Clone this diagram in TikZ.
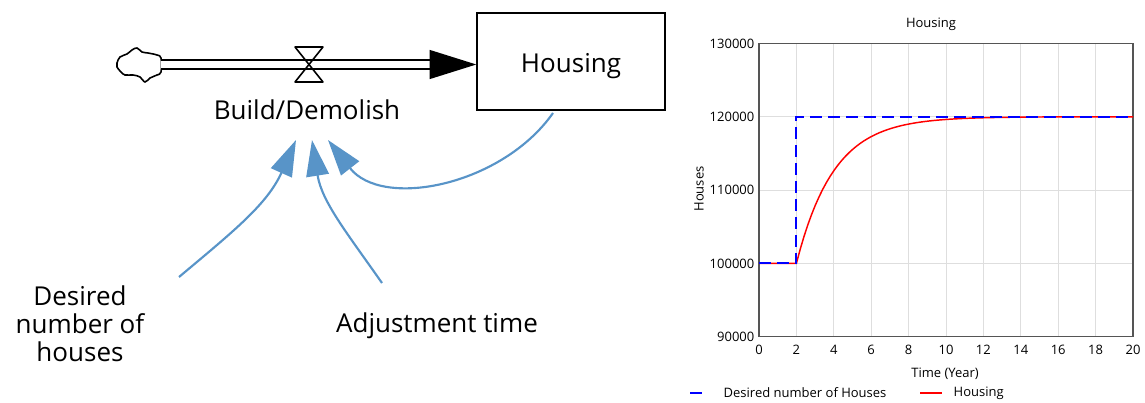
\documentclass[tikz,border=0pt]{standalone}
\usepackage{fontspec}
\setmainfont{Open Sans}
\usepackage{tikz}
\usetikzlibrary{arrows.meta}
\usepackage{xcolor}
\definecolor{linkblue}{RGB}{88,148,200}
\definecolor{gridgray}{RGB}{222,222,222}
\definecolor{framegray}{RGB}{85,85,85}

\tikzset{
  varlabel/.style={font=\fontsize{19.5}{21}\selectfont, align=center},
  link/.style={draw=linkblue, line width=1.6pt, -{Triangle[length=27pt,width=17pt]}},
  plotlabel/.style={font=\fontsize{9.75}{11}\selectfont},
}

\begin{document}
\begin{tikzpicture}[x=0.75pt,y=0.75pt]
\useasboundingbox (0,0) rectangle (1145,-403);

% stock, flow and valve
\node[draw, line width=1.1pt, minimum width=141pt, minimum height=72.75pt, text height=21pt, varlabel] (housing) at (571,-61.5) {Housing};
\draw[line width=1.2pt] plot[smooth cycle, tension=0.6] coordinates {(117,-63) (120,-57) (127,-54) (132,-50) (137,-48) (142,-52) (148,-53) (157,-55) (161,-58) (161,-72) (157,-75) (150,-78) (145,-82) (140,-77) (133,-75) (125,-75) (121,-72) (117,-67)};
\coordinate (src) at (161,-64.5);
\coordinate (inlet) at ([yshift=-2.25pt]housing.west);
\coordinate (pipeend) at ([xshift=-35pt]inlet);
\draw[double, double distance=5pt, line width=1.5pt] (src) -- (pipeend);
\fill (inlet) -- ([yshift=11pt]pipeend) -- ([yshift=-11pt]pipeend) -- cycle;
\coordinate (valve) at (309,-64.5);
\draw[line width=1.2pt, line join=round] (valve) ++(-14,17.5) -- ++(28,0) -- ++(-28,-35) -- ++(28,0) -- cycle;

\node[varlabel] (rate) at (307,-110) {Build/Demolish};
\node[varlabel] (desired) at (80,-324) {Desired\\number of\\houses};
\node[varlabel] (adjtime) at (437,-326) {Adjustment time};

% causal links
\draw[link] ([shift={(99,47)}]desired.center) to[out=40,in=246] ([shift={(-11,-30)}]rate.center);
\draw[link] ([shift={(-55,43)}]adjtime.center) to[out=125,in=279] ([shift={(5,-30)}]rate.center);
\draw[link] ([shift={(-18,-51.5)}]housing.center) to[out=235,in=308] ([shift={(21,-30)}]rate.center);

% simulation graph
\node[plotlabel] (title) at (931,-24) {Housing};
\node[plotlabel, rotate=90] (ylab) at (699,-189) {Houses};
\node[plotlabel] (xlab) at (945,-374) {Time (Year)};
\begin{scope}[shift={(759,-336.7)}, x=14.025pt, y=54.98pt]
  \foreach \t in {2,4,...,18}
    \draw[gridgray, line width=0.75pt] (\t,0) -- (\t,4);
  \foreach \v in {1,2,3}
    \draw[gridgray, line width=0.75pt] (0,\v) -- (20,\v);
  \draw[framegray, line width=1.1pt] (0,0) rectangle (20,4);
  \foreach \t in {0,2,...,20}
    \node[plotlabel, anchor=north] at (\t,-0.05) {\t};
  \foreach \v/\lab in {0/90000,1/100000,2/110000,3/120000,4/130000}
    \node[plotlabel, anchor=east] at (0,\v) {\lab};
  \draw[red, line width=1.1pt] (0,1) -- (2,1) -- plot[domain=2:20, samples=90] (\x,{3-2*exp(-(\x-2)/2)});
  \draw[blue, line width=1.5pt, dash pattern=on 9pt off 4.5pt] (0,1) -- (2,1) -- (2,3) -- (20,3);
\end{scope}

% legend
\draw[blue, line width=1.5pt] (690,-393) -- (702,-393);
\node[plotlabel, anchor=west] (leg1) at (719,-393) {Desired number of Houses};
\draw[red, line width=1.1pt] (920,-393) -- (942,-393);
\node[plotlabel, anchor=west] (leg2) at (949,-393) {Housing};
\end{tikzpicture}
\end{document}
